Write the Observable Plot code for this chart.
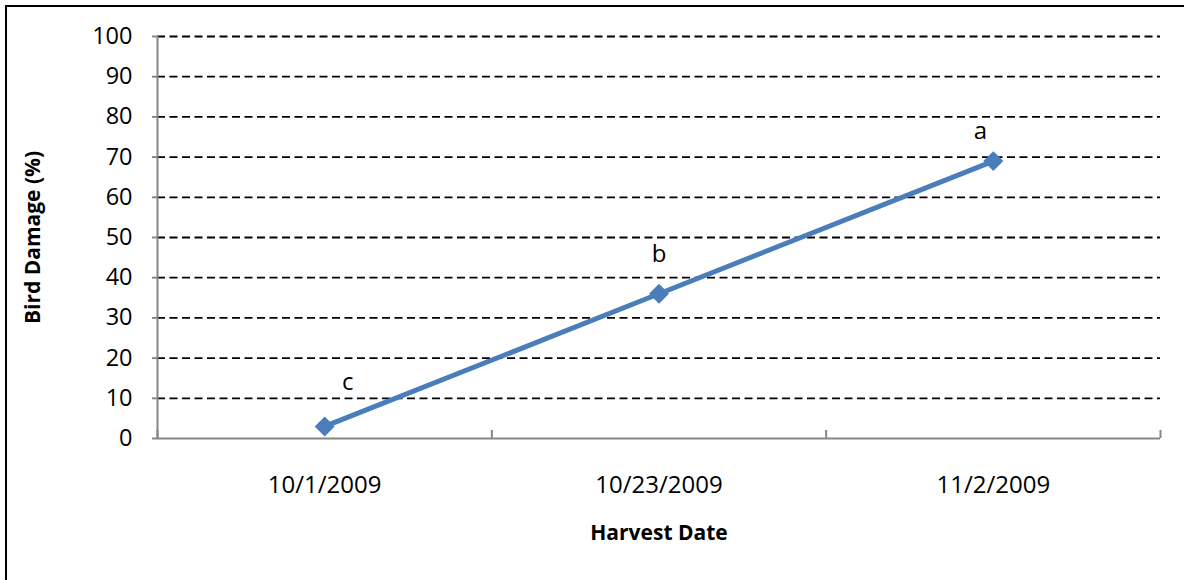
<!DOCTYPE html>
<html>
<head>
<meta charset="utf-8">
<script src="https://cdn.jsdelivr.net/npm/d3@7"></script>
<script src="https://cdn.jsdelivr.net/npm/@observablehq/plot@0.6"></script>
<style>
  html, body { margin: 0; padding: 0; background: white; }
  #wrap { position: relative; width: 1184px; height: 580px; overflow: hidden; }
  #border { position: absolute; left: 5px; top: 5px; width: 1200px; height: 600px;
            border-left: 2px solid black; border-top: 2px solid black; pointer-events: none; }
</style>
</head>
<body>
<div id="wrap"><div id="chart"></div><div id="border"></div></div>
<script>
const dates = ["10/1/2009", "10/23/2009", "11/2/2009"];
const damage = [3, 36, 69];
const letters = ["c", "b", "a"];
const yTicks = [0, 10, 20, 30, 40, 50, 60, 70, 80, 90, 100];
const xTitle = "Harvest Date";
const yTitle = "Bird Damage (%)";

const data = dates.map((d, i) => ({date: d, pos: i + 0.5, damage: damage[i], letter: letters[i]}));

const blue = "#4a7ebb";
const axisGray = "#868686";

const letterMark = (i, dx, dy) => Plot.text(data, {
  filter: (d, j) => j === i, x: "pos", y: "damage", text: "letter",
  dx, dy, fontSize: 24, fill: "black"
});

const chart = Plot.plot({
  width: 1184, height: 580,
  marginLeft: 157, marginRight: 24, marginTop: 36, marginBottom: 142,
  x: {domain: [0, dates.length]},
  y: {domain: [0, 100]},
  style: {fontFamily: "'Open Sans', sans-serif", fontSize: "24px", color: "black", background: "white", overflow: "visible"},
  marks: [
    Plot.gridY(yTicks.filter(v => v > 0), {stroke: "black", strokeOpacity: 1, strokeDasharray: "8,4.5", strokeWidth: 1.8}),
    Plot.axisY({ticks: yTicks, tickSize: 5, tickPadding: 20, stroke: axisGray, strokeWidth: 2, label: null, fontSize: 23.5, fill: "black"}),
    Plot.ruleX([0], {stroke: axisGray, strokeWidth: 2}),
    Plot.ruleY([0], {stroke: axisGray, strokeWidth: 2}),
    Plot.ruleX(d3.range(dates.length + 1), {y1: 0, y2: 2, stroke: axisGray, strokeWidth: 2}),
    Plot.axisX({ticks: data.map(d => d.pos), tickFormat: v => dates[Math.floor(v)], tickSize: 0, tickPadding: 37, label: null, fontSize: 24, fill: "black"}),
    Plot.line(data, {x: "pos", y: "damage", stroke: blue, strokeWidth: 5}),
    Plot.dot(data, {x: "pos", y: "damage", symbol: "diamond2", r: 9, fill: blue}),
    letterMark(0, 23, -44),
    letterMark(1, 0, -39),
    letterMark(2, -13, -30),
    Plot.text([xTitle], {frameAnchor: "bottom", lineAnchor: "middle", textAnchor: "middle", dy: 95, fontWeight: "bold", fontSize: 21, fill: "black"}),
    Plot.text([yTitle], {frameAnchor: "left", lineAnchor: "middle", textAnchor: "middle", rotate: -90, dx: -124, fontWeight: "bold", fontSize: 21, fill: "black"})
  ]
});
document.getElementById("chart").appendChild(chart);
</script>
</body>
</html>
